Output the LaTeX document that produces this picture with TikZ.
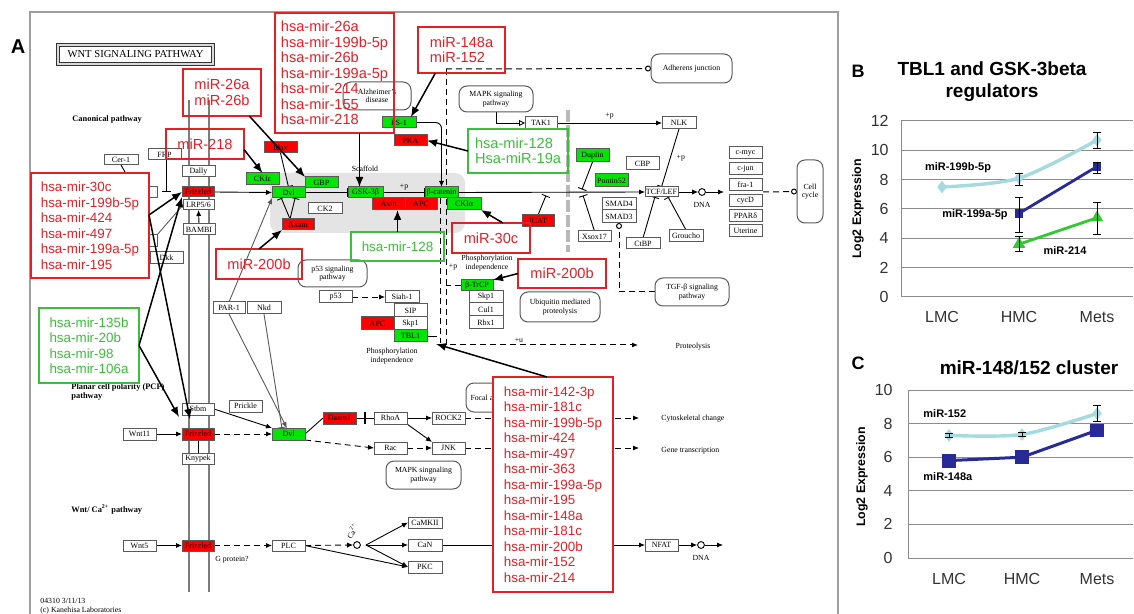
\documentclass[tikz,border=0pt]{standalone}
\usepackage{fontspec}
\setmainfont{Liberation Serif}
\newfontfamily\arialf{Liberation Sans}
\usetikzlibrary{arrows.meta,calc,plotmarks}
\pgfdeclarelayer{back}
\pgfdeclarelayer{bg}
\pgfsetlayers{back,bg,main}
\definecolor{kred}{RGB}{255,0,0}
\definecolor{kgreen}{RGB}{0,230,0}
\definecolor{kborder}{RGB}{90,90,90}
\definecolor{mirred}{RGB}{226,32,38}
\definecolor{mirgreen}{RGB}{60,190,60}
\definecolor{scaf}{RGB}{228,228,228}
\definecolor{memb}{RGB}{125,125,125}
\definecolor{cyanc}{RGB}{165,218,224}
\definecolor{navyc}{RGB}{40,42,150}
\definecolor{greenc}{RGB}{50,200,50}
\definecolor{gridc}{RGB}{140,140,140}
\newcommand\kgfont{\fontsize{4}{4.6}\selectfont}
\newcommand\kpfont{\fontsize{3.9}{4.3}\selectfont}
\newcommand\mirfont{\arialf\fontsize{7.3}{7.75}\selectfont}
\newcommand\mirlfont{\arialf\fontsize{6.7}{7.75}\selectfont}
\newcommand\kbx[7][]{\node[kg,#1,minimum width={(#5-#3)*0.5pt},minimum height={(#6-#4)*0.5pt}] (#2) at ({(#3+#5)/2},{(#4+#6)/2}) {#7};}
\newcommand\ebar[3]{\draw[black, line width=0.45pt] (#1,#2) -- (#1,#3) (#1-4,#2) -- (#1+4,#2) (#1-4,#3) -- (#1+4,#3);}
\begin{document}
\begin{tikzpicture}[x=0.5pt,y=-0.5pt,
  kg/.style={draw=kborder, line width=0.5pt, fill=white, inner sep=0pt, outer sep=0pt, font=\kgfont},
  kr/.style={fill=kred},
  kgr/.style={fill=kgreen},
  kp/.style={rounded corners=4pt, align=center, font=\kpfont},
  ktext/.style={font=\kpfont, inner sep=0pt, align=center},
  act/.style={-{Latex[length=3pt,width=2.6pt]}, line width=0.45pt},
  inh/.style={-{Bar[width=4.5pt]}, line width=0.45pt},
  kdash/.style={dash pattern=on 3pt off 2pt, line width=0.5pt},
  mbox/.style={draw=mirred, line width=0.7pt, text=mirred, font=\mirfont, align=left, fill=none},
  mlist/.style={mbox, font=\mirlfont, fill=white},
  gbox/.style={mbox, draw=mirgreen, text=mirgreen},
  mira/.style={-{Latex[length=5pt,width=4pt]}, line width=0.75pt, black},
  tickl/.style={anchor=east, inner sep=0pt, text=black!80, font=\arialf\fontsize{8}{9}\selectfont},
  ytl/.style={rotate=90, inner sep=0pt, font=\arialf\bfseries\fontsize{6.2}{7}\selectfont},
  xtl/.style={inner sep=0pt, text=black!80, font=\arialf\fontsize{8}{9}\selectfont},
  serl/.style={inner sep=0pt, font=\arialf\bfseries\fontsize{5.5}{6}\selectfont},
  ptitle/.style={inner sep=0pt, align=center, font=\arialf\bfseries\fontsize{9.5}{11}\selectfont},
  plab/.style={inner sep=0pt, font=\arialf\bfseries\fontsize{9}{10}\selectfont}
]
\useasboundingbox (0,0) rectangle (1134,614);

\begin{pgfonlayer}{back}
\fill[white] (0,0) rectangle (1134,614);
\draw[gray!75, line width=0.6pt] (30,614) -- (30,12) -- (838,12) -- (838,614);
\fill[scaf, rounded corners=5pt] (270,173) rectangle (465,233);
\draw[memb, line width=1.4pt] (189,100) -- (189,592);
\draw[memb, line width=1.4pt] (209,100) -- (209,592);
\draw[gray!55, line width=1.6pt, dash pattern=on 6pt off 1.5pt] (568,110) -- (568,252);
\end{pgfonlayer}

\node[plab, font=\arialf\bfseries\fontsize{10}{12}\selectfont] (labA) at (18,47) {A};
\kbx[draw=black!80, line width=0.5pt, double=gray!30, double distance=0.6pt, font=\fontsize{5.3}{6}\selectfont]{title}{58}{45}{213}{64}{WNT SIGNALING PATHWAY}
\node[font=\bfseries\fontsize{4.2}{4.6}\selectfont, anchor=west, inner sep=0pt] (canon) at (72,119) {Canonical pathway};
\node[font=\bfseries\fontsize{4.2}{4.6}\selectfont, anchor=north west, align=left, inner sep=0pt] (pcp) at (71,383) {Planar cell polarity (PCP)\\pathway};
\node[font=\bfseries\fontsize{4.2}{4.6}\selectfont, anchor=west, inner sep=0pt] (wntca) at (71,509) {Wnt/ Ca\textsuperscript{2+} pathway};

% gene boxes
\kbx{Cer1}{104}{155}{138}{165}{Cer-1}
\kbx{FRP}{148}{149}{181}{160}{FRP}
\kbx{hb1}{128}{187}{157}{198}{}
\kbx{hb2}{128}{235}{157}{247}{}
\kbx{Dkk}{150}{252}{183}{264}{Dkk}
\kbx{Dally}{182}{166}{215}{177}{Dally}
\kbx[kr]{Fz1}{182}{187}{214}{197}{Frizzled}
\kbx{LRP}{183}{200}{214}{210}{LRP5/6}
\kbx{BAMBI}{183}{224}{215}{235}{BAMBI}
\kbx[kgr]{CKIe}{246}{173}{279}{185}{CKIε}
\kbx[kgr]{Dvl1}{272}{187}{305}{198}{Dvl}
\kbx[kgr]{GBP}{305}{177}{338}{188}{GBP}
\kbx[kr]{Idax}{264}{142}{297}{153}{Idax}
\kbx{CK2}{308}{203}{342}{214}{CK2}
\kbx[kr]{Axam}{282}{219}{314}{230}{Axam}
\kbx[kgr]{GSK}{348}{187}{383}{198}{GSK-3β}
\kbx[kr]{Axin}{372}{198}{405}{210}{Axin}
\kbx[kr]{APC1}{405}{198}{437}{210}{APC}
\kbx[kgr]{bcat}{425}{187}{458}{198}{β-catenin}
\kbx[kgr]{CKIa}{447}{198}{481}{210}{CKIα}
\kbx[kgr]{PS1}{382}{117}{416}{128}{PS-1}
\kbx[kr]{PKA}{394}{135}{427}{146}{PKA}
\kbx{TAK1}{525}{117}{557}{129}{TAK1}
\kbx{NLK}{662}{117}{696}{129}{NLK}
\kbx[kgr]{Duplin}{576}{149}{609}{162}{Duplin}
\kbx[kgr]{Pontin}{595}{174}{628}{187}{Pontin52}
\kbx{CBP}{626}{157}{659}{170}{CBP}
\kbx{TCF}{645}{187}{678}{197}{TCF/LEF}
\kbx{cmyc}{729}{147}{762}{159}{c-myc}
\kbx{cjun}{729}{163}{762}{175}{c-jun}
\kbx{fra1}{729}{179}{762}{191}{fra-1}
\kbx{cycD}{729}{195}{762}{207}{cycD}
\kbx{PPARd}{729}{210}{762}{222}{PPARδ}
\kbx{Uter}{729}{225}{762}{237}{Uterine}
\kbx{SMAD4}{602}{198}{636}{210}{SMAD4}
\kbx{SMAD3}{602}{210}{636}{223}{SMAD3}
\kbx{Xsox17}{578}{231}{611}{242}{Xsox17}
\kbx{CtBP}{626}{238}{660}{249}{CtBP}
\kbx{Groucho}{669}{230}{703}{242}{Groucho}
\kbx[kr]{ICAT}{522}{215}{554}{227}{ICAT}
\kbx[kgr]{btrcp}{461}{280}{493}{291}{β-TrCP}
\kbx{Skp1r}{469}{291}{503}{303}{Skp1}
\kbx{Cul1}{469}{303}{503}{316}{Cul1}
\kbx{Rbx1}{469}{316}{503}{329}{Rbx1}
\kbx{p53}{319}{291}{352}{303}{p53}
\kbx{Siah1}{385}{291}{419}{303}{Siah-1}
\kbx{SIP}{394}{304}{427}{317}{SIP}
\kbx{Skp1l}{394}{317}{427}{330}{Skp1}
\kbx[kgr]{TBL1}{394}{330}{427}{342}{TBL1}
\kbx[kr]{APC2}{361}{317}{394}{330}{APC}
\kbx{PAR1}{213}{302}{245}{314}{PAR-1}
\kbx{Nkd}{247}{302}{281}{314}{Nkd}
\kbx{Stbm}{182}{403}{214}{415}{Stbm}
\kbx{Prickle}{229}{400}{262}{412}{Prickle}
\kbx{Wnt11}{123}{428}{156}{440}{Wnt11}
\kbx[kr]{Fz2}{182}{428}{214}{440}{Frizzled}
\kbx{Knypek}{182}{453}{214}{464}{Knypek}
\kbx[kgr]{Dvl2}{272}{428}{305}{440}{Dvl}
\kbx[kr]{Daam1}{323}{412}{356}{424}{Daam1}
\kbx{RhoA}{374}{412}{407}{424}{RhoA}
\kbx{ROCK2}{432}{412}{465}{424}{ROCK2}
\kbx{Rac}{374}{442}{407}{454}{Rac}
\kbx{JNK}{432}{442}{465}{454}{JNK}
\kbx{Wnt5}{123}{540}{156}{551}{Wnt5}
\kbx[kr]{Fz3}{182}{540}{214}{551}{Frizzled}
\kbx{PLC}{272}{540}{305}{551}{PLC}
\kbx{CaMKII}{408}{517}{442}{528}{CaMKII}
\kbx{CaN}{408}{539}{442}{551}{CaN}
\kbx{PKC}{408}{561}{442}{573}{PKC}
\kbx{NFAT}{645}{539}{678}{551}{NFAT}

% pathway map boxes
\kbx[kp]{Alz}{343}{82}{411}{110}{Alzheimer's\\disease}
\kbx[kp]{MAPK1}{459}{86}{533}{112}{MAPK signaling\\pathway}
\kbx[kp]{Adh}{651}{54}{732}{83}{Adherens junction}
\kbx[kp]{CellCycle}{797}{160}{823}{223}{Cell\\cycle}
\kbx[kp]{TGF}{655}{278}{729}{306}{TGF-β signaling\\pathway}
\kbx[kp]{Ubiq}{520}{292}{600}{322}{Ubiquitin mediated\\proteolysis}
\kbx[kp]{p53p}{298}{260}{367}{287}{p53 signaling\\pathway}
\kbx[kp]{MAPK2}{386}{461}{461}{489}{MAPK singnaling\\pathway}
\kbx[kp]{Focal}{466}{383}{522}{412}{Focal adhesion}

\node[circle, draw, line width=0.45pt, inner sep=0pt, minimum size=3.4pt, fill=white] (dna1) at (702,192) {};
\node[circle, draw, line width=0.45pt, inner sep=0pt, minimum size=3.4pt, fill=white] (dna2) at (701,545) {};
\node[circle, draw, line width=0.45pt, inner sep=0pt, minimum size=3.4pt, fill=white] (ca) at (357,545) {};

% texts
\node[ktext] (scaffold) at (365,169) {Scaffold};
\node[ktext] (phos1) at (487,263) {Phosphorylation\\independence};
\node[ktext] (phos2) at (392,356) {Phosphorylation\\independence};
\node[ktext] (pp4) at (453,267) {+p};
\node[ktext] (proteo) at (693,347) {Proteolysis};
\node[ktext] (dnat1) at (702,205) {DNA};
\node[ktext] (dnat2) at (701,558) {DNA};
\node[ktext, anchor=west] (cyto) at (661,419) {Cytoskeletal change};
\node[ktext, anchor=west] (genet) at (661,451) {Gene transcription};
\node[ktext, anchor=west] (gprot) at (215,560) {G protein?};
\node[ktext, rotate=60] (catext) at (352,531) {Ca\textsuperscript{2+}};
\node[ktext, anchor=west, align=left] (foot) at (40,606) {04310 3/11/13\\(c) Kanehisa Laboratories};

\coordinate (dupbar) at (582,189.5);
\coordinate (xsbar) at (583,195.5);
\coordinate (icbar) at (546,195.5);
\coordinate (colin) at (724,192);
\coordinate (colout) at (763,192);
\coordinate (dj) at (446,69);
\coordinate (dbot) at (446,345);
\coordinate (proA) at (638,345);
\coordinate (dbot2) at (440,343);
\coordinate (tblR) at (437,336);
\coordinate (cytA) at (639,418);
\coordinate (genA) at (639,448);
\coordinate (caout) at (366,545);
\coordinate (dna2o) at (723,545);

\begin{pgfonlayer}{bg}
\draw[line width=0.45pt] (Cer1.south) -- ++(8,14);
\draw[inh] ($(FRP.south west)!0.55!(FRP.south east)$) -- ++(0,32);
\draw[inh, gray!70!black] (hb2.north east) -- (LRP.west);
\draw[act] (BAMBI.north) -- (LRP.south);
\draw[act] (Fz1.east) -- (Dvl1.west);
\draw[inh] (Idax.south) -- (Dvl1.north);
\draw[inh] (Dvl1.east) -- (GSK.west);
\draw[inh] (GSK.east) -- node[ktext, above=1pt] (pp1) {+p} (bcat.west);
\draw[inh] ($(Axam.north west)!0.25!(Axam.north east)$) -- ($(Dvl1.south west)!0.28!(Dvl1.south east)$);
\draw[inh] ($(Axam.north west)!0.25!(Axam.north east)$) -- ($(Dvl1.south west)!0.7!(Dvl1.south east)$);
\draw[act, rounded corners=3pt] (PS1.east) -| (bcat.north);
\draw[act] (bcat.east) -- (TCF.west);
\draw[-{Triangle[open,length=3pt,width=3pt]}, line width=0.45pt] (MAPK1.south) |- (TAK1.west);
\draw[act] (TAK1.east) -- node[ktext, above=1.5pt] (pp2) {+p} (NLK.west);
\draw[inh] (NLK.south) -- node[ktext, right=3pt] (pp3) {+p} (TCF.north);
\draw[inh] (Duplin.south) -- (dupbar);
\draw[inh] (Xsox17.north) -- (xsbar);
\draw[inh] (ICAT.north) -- (icbar);
\draw[inh] (CtBP.north) -- ($(TCF.south west)!0.3!(TCF.south east)$);
\draw[inh] (Groucho.north) -- ($(TCF.south west)!0.7!(TCF.south east)$);
\draw[act] (TCF.east) -- (dna1.west);
\draw[act] (dna1.east) -- (colin);
\draw[kdash, -{Circle[open,length=3pt]}] (colout) -- (CellCycle.west);
\draw[kdash, -{Circle[open,length=3pt]}] (dj) -- (Adh.west);
\draw[kdash, -{Latex[length=3pt,width=2.6pt]}] (dj) -- (dbot) -- node[ktext, above=1pt, pos=0.38] (pu) {+u} (proA);
\draw[kdash] (bcat.south -| dbot2) -- (dbot2);
\draw[kdash, -{Circle[open,length=3pt]}] (TGF.west) -| (SMAD3.south);
\draw[kdash, act] (p53.east) -- (Siah1.west);
\draw[line width=0.45pt] (TBL1.east) -- (tblR);
\draw[kdash] (btrcp.west) -- (btrcp.west -| dj);
\draw[act, gray!70!black] (PAR1.north) -- (Dvl1.south west);
\draw[act, gray!70!black] (PAR1.south) -- ($(Dvl2.north west)!0.45!(Dvl2.north east)$);
\draw[inh, gray!70!black] (Nkd.south) -- ($(Dvl2.north west)!0.3!(Dvl2.north east)$);
% PCP
\draw[act] (Wnt11.east) -- (Fz2.west);
\draw[line width=0.45pt] (Fz2.south) -- (Knypek.north);
\draw[kdash, act] (Fz2.east) -- (Dvl2.west);
\draw[act] (Stbm.east) -- (Dvl2.north west);
\draw[line width=0.45pt] (Dvl2.east) -- (Daam1.west);
\path (Daam1.east) -- coordinate[pos=0.5] (drm) (RhoA.west);
\draw[line width=0.45pt] (Daam1.east) -- (RhoA.west);
\draw[line width=0.6pt] ($(drm)+(0,-6)$) -- ($(drm)+(0,6)$);
\draw[act] (RhoA.east) -- (ROCK2.west);
\draw[act] (RhoA.south east) -- (JNK.north west);
\draw[kdash, act] (Dvl2.south east) -- (Rac.west);
\draw[kdash, act] (Rac.east) -- (JNK.west);
\draw[kdash, act] (ROCK2.east) -- (cytA);
\draw[kdash, act] (JNK.east) -- (genA);
% Ca2+
\draw[act] (Wnt5.east) -- (Fz3.west);
\draw[kdash, act] (Fz3.east) -- (PLC.west);
\draw[kdash, act] (PLC.east) -- (ca.west);
\draw[act] (PLC.east) -- (PKC.west);
\draw[act] (caout) -- (CaMKII.west);
\draw[act] (caout) -- (CaN.west);
\draw[act] (caout) -- (PKC.west);
\draw[act] (CaN.east) -- (NFAT.west);
\draw[act] (NFAT.east) -- (dna2.west);
\draw[act] (dna2.east) -- (dna2o);
\end{pgfonlayer}

% miRNA boxes
\kbx[mbox]{M1}{183}{69}{261}{116}{miR-26a\\miR-26b}
\kbx[mbox]{M2}{166}{129}{244}{159}{miR-218}
\kbx[mbox]{M3}{275}{13}{394}{133}{hsa-mir-26a\\hsa-mir-199b-5p\\hsa-mir-26b\\hsa-mir-199a-5p\\hsa-mir-214\\hsa-mir-155\\hsa-mir-218}
\kbx[mbox]{M4}{418}{27}{505}{73}{miR-148a\\miR-152}
\kbx[gbox]{M5}{468}{129}{568}{173}{hsa-mir-128\\Hsa-miR-19a}
\kbx[mlist]{M6}{31}{173}{149}{278}{hsa-mir-30c\\hsa-mir-199b-5p\\hsa-mir-424\\hsa-mir-497\\hsa-mir-199a-5p\\hsa-mir-195}
\kbx[mlist, draw=mirgreen, text=mirgreen]{M7}{39}{308}{139}{383}{hsa-mir-135b\\hsa-mir-20b\\hsa-mir-98\\hsa-mir-106a}
\kbx[mbox]{M8}{216}{249}{302}{279}{miR-200b}
\kbx[gbox, font=\mirlfont]{M9}{351}{232}{444}{261}{hsa-mir-128}
\kbx[mbox]{M10}{452}{223}{530}{253}{miR-30c}
\kbx[mbox]{M11}{518}{259}{606}{288}{miR-200b}
\kbx[mlist]{M12}{493}{377}{613}{592}{hsa-mir-142-3p\\hsa-mir-181c\\hsa-mir-199b-5p\\hsa-mir-424\\hsa-mir-497\\hsa-mir-363\\hsa-mir-199a-5p\\hsa-mir-195\\hsa-mir-148a\\hsa-mir-181c\\hsa-mir-200b\\hsa-mir-152\\hsa-mir-214}

\coordinate (GSK3t) at ($(GSK.north)+(-6,0)$);
\coordinate (pind) at (436,344);
\coordinate (m6o) at ($(M6.north east)!0.4!(M6.south east)$);
\coordinate (pcpA) at (179,417);
\coordinate (pcpB) at (190,419);
\draw[mira] ($(M1.south east)!0.15!(M1.south west)$) -- (GBP.north west);
\draw[mira] (M2.-8) -- (CKIe.north);
\draw[mira] (M3.south -| GSK3t) -- (GSK3t);
\draw[mira] ($(M4.south west)!0.2!(M4.south east)$) -- ($(PS1.north east)!0.15!(PS1.north west)$);
\draw[mira] (M5.west) -- (PKA.east);
\draw[mira] (M9.north) -- (M9.north |- Axin.south);
\draw[mira] ($(M10.north)+(12,0)$) -- (CKIa.south east);
\draw[mira] (M11.west) -- (btrcp.north east);
\draw[mira] (M8.north) -- (Axam.south west);
\draw[mira] ($(M12.north west)!0.45!(M12.north east)$) -- (pind);
\draw[mira] (m6o) -- (Fz1.west);
\draw[mira] (m6o) -- (pcpB);
\draw[mira] (M7.east) -- (Fz1.south west);
\draw[mira] (M7.east) -- (pcpA);

% ===== Panel B =====
\node[plab] (labB) at (858,71) {B};
\node[ptitle] (titB) at (992,82) {TBL1 and GSK-3beta\\regulators};
\foreach \yv in {2,4,...,10} \draw[gridc, line width=0.5pt] (901,{297-14.667*\yv}) -- (1133,{297-14.667*\yv});
\draw[gridc, line width=0.5pt] (1133,121) -- (901,121) -- (901,297) -- (1133,297);
\foreach \yv in {0,2,...,12} \node[tickl] (tB\yv) at (889,{297-14.667*\yv}) {\yv};
\node[ytl] (ytB) at (858,209) {Log2 Expression};
\node[xtl] (xB1) at (942,317) {LMC};
\node[xtl] (xB2) at (1019,317) {HMC};
\node[xtl] (xB3) at (1097,317) {Mets};
\draw[cyanc, line width=1.7pt] plot[smooth, tension=0.5] coordinates {(942,187) (1019,178.2) (1097,140.1)};
\draw[navyc, line width=1.4pt] (1019,213.4) -- (1097,166.5);
\draw[greenc, line width=1.4pt] (1019,244.2) -- (1097,217.8);
\draw[cyanc] plot[only marks, mark=diamond*, mark size=2.8pt] coordinates {(942,187) (1019,178.2) (1097,140.1)};
\draw[navyc] plot[only marks, mark=square*, mark size=1.9pt] coordinates {(1019,213.4) (1097,166.5)};
\draw[greenc] plot[only marks, mark=triangle*, mark size=3.2pt] coordinates {(1019,244.2) (1097,217.8)};
\ebar{1019}{185.5}{173.1}
\ebar{1097}{148.1}{132}
\ebar{1019}{232.5}{197.3}
\ebar{1097}{173.1}{162.1}
\ebar{1019}{251.5}{236.9}
\ebar{1097}{234.7}{202.4}
\node[serl] (lb1) at (958,168) {miR-199b-5p};
\node[serl] (lb2) at (975,215) {miR-199a-5p};
\node[serl] (lb3) at (1065,251) {miR-214};

% ===== Panel C =====
\node[plab] (labC) at (858,363) {C};
\node[ptitle] (titC) at (1029,368) {miR-148/152 cluster};
\foreach \yv in {2,4,6,8} \draw[gridc, line width=0.5pt] (908,{558-16.8*\yv}) -- (1133,{558-16.8*\yv});
\draw[gridc, line width=0.5pt] (1133,390) -- (908,390) -- (908,558) -- (1133,558);
\foreach \yv in {0,2,...,10} \node[tickl] (tC\yv) at (893,{558-16.8*\yv}) {\yv};
\node[ytl] (ytC) at (862,477) {Log2 Expression};
\node[xtl] (xC1) at (949,579) {LMC};
\node[xtl] (xC2) at (1022,579) {HMC};
\node[xtl] (xC3) at (1097,579) {Mets};
\draw[cyanc, line width=1.7pt] plot[smooth, tension=0.5] coordinates {(949,435.4) (1022,434.5) (1097,413.5)};
\draw[navyc, line width=1.5pt] (949,460.6) -- (1022,457.2) -- (1097,430.3);
\draw[cyanc] plot[only marks, mark=diamond*, mark size=2.8pt] coordinates {(949,435.4) (1022,434.5) (1097,413.5)};
\draw[navyc] plot[only marks, mark=square*, mark size=3.2pt] coordinates {(949,460.6) (1022,457.2) (1097,430.3)};
\ebar{1097}{421.9}{405.1}
\ebar{949}{437.5}{433.3}
\ebar{1022}{436.5}{432.5}
\node[serl, anchor=west] (lc1) at (923,414) {miR-152};
\node[serl, anchor=west] (lc2) at (923,477) {miR-148a};
\end{tikzpicture}
\end{document}
